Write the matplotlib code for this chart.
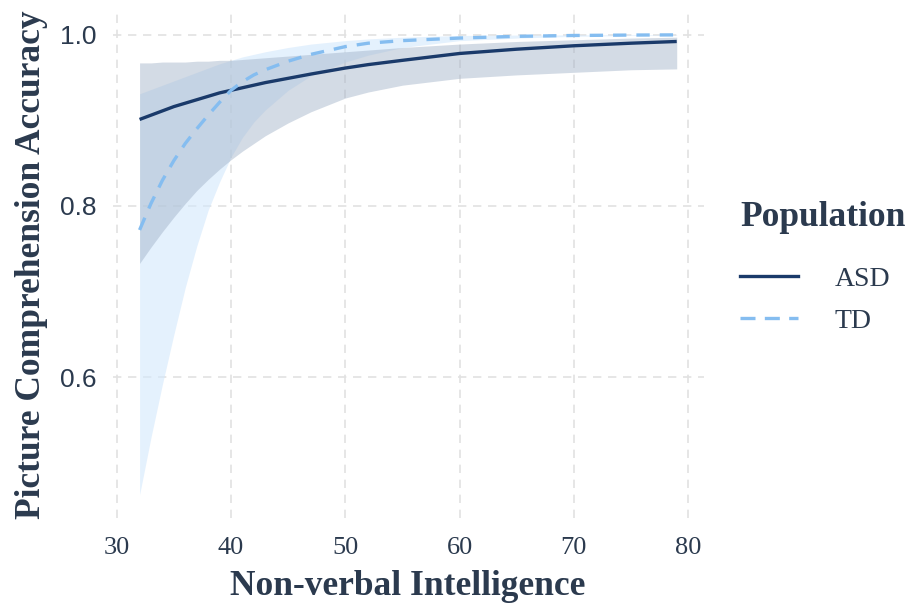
import numpy as np
import matplotlib.pyplot as plt
from matplotlib.lines import Line2D

# values
iq = [32, 33, 34, 35, 36, 37, 38, 39, 40, 41, 42, 43, 45, 47, 50, 52, 55, 60, 65, 70, 75, 79]

asd_fit = [0.901, 0.906, 0.911, 0.916, 0.920, 0.924, 0.928, 0.932, 0.935, 0.938, 0.941, 0.944,
           0.949, 0.954, 0.961, 0.965, 0.970, 0.978, 0.983, 0.987, 0.990, 0.992]
asd_lo = [0.733, 0.752, 0.770, 0.787, 0.803, 0.818, 0.831, 0.843, 0.854, 0.864, 0.873, 0.882,
          0.897, 0.910, 0.926, 0.933, 0.941, 0.949, 0.953, 0.956, 0.959, 0.960]
asd_hi = [0.967, 0.967, 0.968, 0.968, 0.968, 0.969, 0.969, 0.970, 0.970, 0.971, 0.972, 0.973,
          0.975, 0.977, 0.980, 0.982, 0.985, 0.989, 0.992, 0.994, 0.996, 0.997]

td_fit = [0.772, 0.803, 0.830, 0.853, 0.873, 0.890, 0.906, 0.921, 0.935, 0.945, 0.953, 0.959,
          0.969, 0.977, 0.986, 0.990, 0.993, 0.996, 0.998, 0.999, 0.9995, 0.9997]
td_lo = [0.463, 0.530, 0.592, 0.650, 0.705, 0.753, 0.795, 0.828, 0.857, 0.880, 0.898, 0.912,
         0.935, 0.952, 0.968, 0.976, 0.985, 0.993, 0.996, 0.998, 0.999, 0.9993]
td_hi = [0.931, 0.936, 0.941, 0.946, 0.951, 0.956, 0.961, 0.966, 0.970, 0.974, 0.977, 0.980,
         0.985, 0.989, 0.993, 0.995, 0.997, 0.999, 0.9995, 0.9997, 0.9998, 0.9999]

xticks = [30, 40, 50, 60, 70, 80]
yticks = [0.6, 0.8, 1.0]

txt = '#2b3a4e'
asd_col = '#1a3a6a'
td_col = '#85bdf0'

fig = plt.figure(figsize=(9.09, 6.05), dpi=100)
ax = fig.add_axes([0.124, 0.144, 0.650, 0.837])

ax.fill_between(iq, td_lo, td_hi, color='#d3e8fc', alpha=0.6, lw=0, zorder=2)
ax.fill_between(iq, asd_lo, asd_hi, color='#9fb0c6', alpha=0.45, lw=0, zorder=3)
ax.plot(iq, asd_fit, color=asd_col, lw=2.4, zorder=5, solid_capstyle='butt')
ax.plot(iq, td_fit, color=td_col, lw=2.4, ls=(0, (4, 3)), zorder=5)

ax.set_xlim(29.65, 81.35)
ax.set_ylim(0.436, 1.027)
ax.set_xticks(xticks)
ax.set_yticks(yticks)
ax.set_yticklabels(['0.6', '0.8', '1.0'], family='Liberation Sans', fontsize=19, color=txt)
ax.set_xticklabels([str(v) for v in xticks], family='Liberation Serif', fontsize=19, color=txt)
ax.tick_params(axis='x', length=0, pad=14)
ax.tick_params(axis='y', length=0, pad=12)
ax.grid(True, color='#e2e2e2', ls=(0, (5, 4)), lw=1.2, zorder=0)
for s in ax.spines.values():
    s.set_visible(False)

ax.set_xlabel('Non-verbal Intelligence', family='Liberation Serif', fontweight='bold',
              fontsize=25.5, color=txt, labelpad=8)
ax.set_ylabel('Picture Comprehension Accuracy', family='Liberation Serif', fontweight='bold',
              fontsize=25.5, color=txt, labelpad=8)

# legend: title as its own text, entries below it
fig.text(740 / 909, 1 - 217 / 605, 'Population', family='Liberation Serif', fontweight='bold',
         fontsize=25.5, color=txt, ha='left', va='center')
handles = [Line2D([], [], color=asd_col, lw=2.4),
           Line2D([], [], color=td_col, lw=2.4, ls=(0, (4.5, 2.8)))]
leg = fig.legend(handles, ['ASD', 'TD'], loc='center left', bbox_to_anchor=(740 / 909, 1 - 300 / 605),
                 frameon=False, handlelength=2.1, handletextpad=1.3, borderpad=0, borderaxespad=0,
                 labelspacing=0.6, prop={'family': 'Liberation Serif', 'size': 20})
for t in leg.get_texts():
    t.set_color(txt)

fig.savefig('out.png', dpi=100)
